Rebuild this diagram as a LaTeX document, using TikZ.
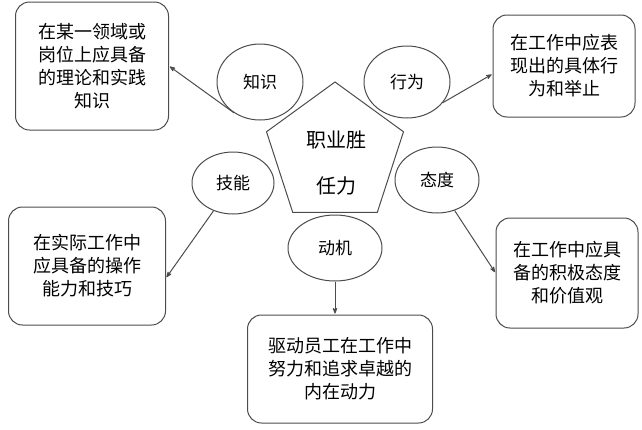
\documentclass[tikz,border=0pt]{standalone}
\usepackage{fontspec}
\newfontfamily\cjk{Noto Sans CJK SC}
\usetikzlibrary{arrows.meta, positioning, shapes.geometric}
\definecolor{linegray}{gray}{0.3}
\tikzstyle{competence}=[shorten >=1pt, >={Stealth[round]}, x=1pt, y=-1pt]
\tikzstyle{trait}=[ellipse, draw=linegray, fill=white, line width=1pt, inner sep=0pt, font=\cjk\fontsize{17}{20}\selectfont]
\tikzstyle{meaning}=[rectangle, rounded corners=14pt, draw=linegray, line width=1pt, align=center, font=\cjk\fontsize{18}{23}\selectfont]

\begin{document}
\begin{tikzpicture}[competence]
  \useasboundingbox (0,0) rectangle (642,429);
  % core
  \node[regular polygon, regular polygon sides=5, minimum size=144pt, draw=linegray, line width=1pt] (core) at (335,154) {};
  \node[align=center, font=\cjk\fontsize{20}{46}\selectfont] (coretext) at (336,163) {职业胜\\任力};
  % five traits
  \node[trait, minimum width=86pt, minimum height=76pt] (zs) at (260,82) {知识};
  \node[trait, minimum width=86pt, minimum height=72pt] (xw) at (407,82) {行为};
  \node[trait, minimum width=82pt, minimum height=62pt] (jn) at (233,183) {技能};
  \node[trait, minimum width=84pt, minimum height=66pt] (td) at (437,180) {态度};
  \node[trait, minimum width=94pt, minimum height=66pt] (dj) at (335,248) {动机};
  % meanings
  \node[meaning, minimum width=153pt, minimum height=128pt] (zsbox) at (92,66) {在某一领域或\\岗位上应具备\\的理论和实践\\知识};
  \node[meaning, minimum width=142pt, minimum height=102pt] (xwbox) at (564,66) {在工作中应表\\现出的具体行\\为和举止};
  \node[meaning, minimum width=157pt, minimum height=118pt] (jnbox) at (87,266) {在实际工作中\\应具备的操作\\能力和技巧};
  \node[meaning, minimum width=142pt, minimum height=110pt] (tdbox) at (567,273) {在工作中应具\\备的积极态度\\和价值观};
  \node[meaning, minimum width=185pt, minimum height=108pt, below=33pt of dj, xshift=5pt] (djbox) {驱动员工在工作中\\努力和追求卓越的\\内在动力};
  % arrows
  \draw[->, linegray, line width=1pt] (zs.230) -- (zsbox.east);
  \draw[->, linegray, line width=1pt] (xw.-30) -- ([yshift=-8pt]xwbox.west);
  \draw[->, linegray, line width=1pt] (jn.235) -- ([yshift=-12pt]jnbox.east);
  \draw[->, linegray, line width=1pt] (td.-60) -- (tdbox.west);
  \draw[->, linegray, line width=1pt] (dj) -- (dj |- djbox.north);
\end{tikzpicture}
\end{document}
